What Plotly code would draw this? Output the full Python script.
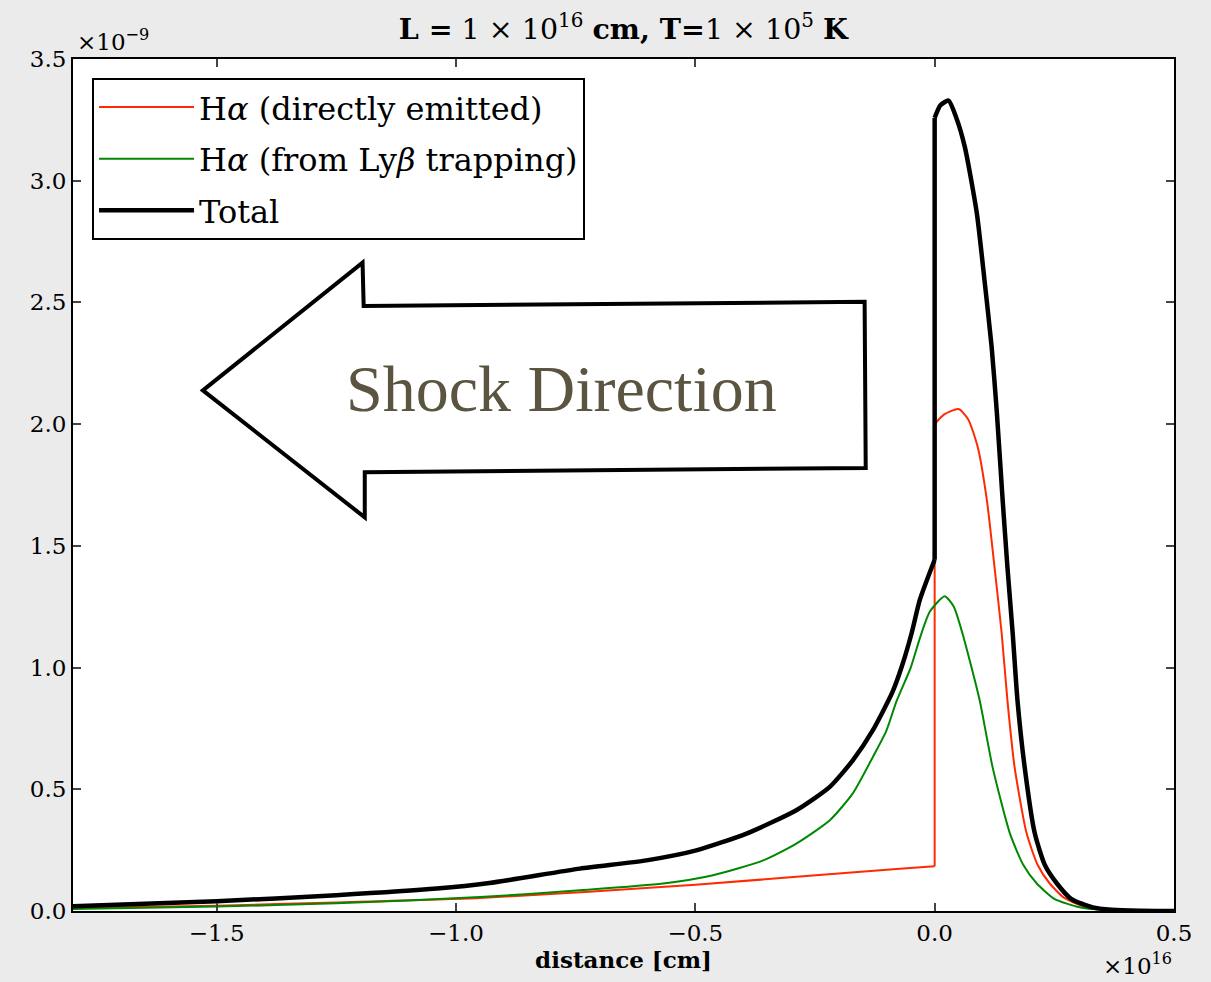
import plotly.graph_objects as go

# distance in units of 1e16 cm, emissivity in units of 1e-9
red_x = [-1.8, -1.5, -1.25, -0.95, -0.5, -0.073, 0.0, 0.0, 0.02, 0.050, 0.07, 0.090, 0.109, 0.125,
         0.140, 0.152, 0.167, 0.192, 0.215, 0.240, 0.27, 0.317, 0.36, 0.42, 0.5]
red_y = [0.012, 0.022, 0.035, 0.053, 0.108, 0.174, 0.184, 2.0, 2.04, 2.062, 2.02, 1.906, 1.689, 1.414,
         1.141, 0.866, 0.591, 0.320, 0.19, 0.114, 0.055, 0.015, 0.004, 0.001, 0.0]

green_x = [-1.8, -1.5, -1.25, -0.95, -0.741, -0.567, -0.463, -0.358, -0.289, -0.219, -0.171, -0.129,
           -0.101, -0.08, -0.05, -0.031, -0.01, 0.021, 0.04, 0.058, 0.094, 0.121, 0.157, 0.185,
           0.213, 0.25, 0.303, 0.35, 0.42, 0.5]
green_y = [0.008, 0.018, 0.032, 0.057, 0.085, 0.113, 0.147, 0.208, 0.277, 0.373, 0.483, 0.633,
           0.74, 0.86, 1.0, 1.12, 1.23, 1.293, 1.25, 1.141, 0.866, 0.591, 0.320, 0.19,
           0.114, 0.05, 0.015, 0.004, 0.001, 0.0]

total_x = [-1.8, -1.5, -1.25, -1.04, -0.93, -0.741, -0.602, -0.498, -0.393, -0.289, -0.219, -0.171,
           -0.129, -0.088, -0.069, -0.048, -0.031, 0.0, 0.0, 0.012, 0.029, 0.045, 0.063, 0.088,
           0.104, 0.119, 0.130, 0.142, 0.152, 0.163, 0.173, 0.188, 0.209, 0.23, 0.255, 0.285,
           0.330, 0.37, 0.43, 0.5]
total_y = [0.019, 0.040, 0.065, 0.092, 0.115, 0.174, 0.208, 0.249, 0.318, 0.414, 0.510, 0.619,
           0.743, 0.9, 1.002, 1.142, 1.278, 1.443, 3.258, 3.31, 3.329, 3.26, 3.139, 2.868,
           2.593, 2.318, 2.046, 1.689, 1.414, 1.141, 0.866, 0.591, 0.320, 0.19, 0.114, 0.05,
           0.015, 0.005, 0.001, 0.0]

x_ticks = [-1.5, -1.0, -0.5, 0.0, 0.5]
y_ticks = [0.0, 0.5, 1.0, 1.5, 2.0, 2.5, 3.0, 3.5]

series_names = ["H<i>α</i> (directly emitted)", "H<i>α</i> (from Ly<i>β</i> trapping)", "Total"]

SERIF = "DejaVu Serif, Liberation Serif, serif"
SERIF2 = "Liberation Serif, DejaVu Serif, serif"


def shock_index(xs):
    # index of the second x == 0 point (post-shock start)
    zeros = [i for i, v in enumerate(xs) if v == 0.0]
    return zeros[-1] if len(zeros) > 1 else None


fig = go.Figure()


def add_series(xs, ys, name, group, color, width):
    k = shock_index(xs)
    if k is None:
        fig.add_trace(go.Scatter(x=xs, y=ys, mode="lines", name=name, legendgroup=group,
                                 line=dict(color=color, width=width, shape="spline", smoothing=0.6)))
        return
    # pre-shock part (smooth), the jump (straight), post-shock part (smooth)
    fig.add_trace(go.Scatter(x=xs[:k], y=ys[:k], mode="lines", name=name, legendgroup=group,
                             line=dict(color=color, width=width, shape="spline", smoothing=0.6)))
    fig.add_trace(go.Scatter(x=xs[k - 1:k + 1], y=ys[k - 1:k + 1], mode="lines", name=name,
                             legendgroup=group, showlegend=False,
                             line=dict(color=color, width=width)))
    fig.add_trace(go.Scatter(x=xs[k:], y=ys[k:], mode="lines", name=name, legendgroup=group,
                             showlegend=False,
                             line=dict(color=color, width=width, shape="spline", smoothing=0.6)))


add_series(red_x, red_y, series_names[0], "a", "#ff2a00", 2)
add_series(green_x, green_y, series_names[1], "b", "#008800", 2)
add_series(total_x, total_y, series_names[2], "c", "black", 4.5)

# arrow shape (paper coordinates)
arrow_pts = [(0.118, 0.611), (0.263, 0.761), (0.264, 0.710), (0.719, 0.715),
             (0.720, 0.520), (0.265, 0.515), (0.265, 0.462)]
path = "M " + " L ".join(f"{x},{y}" for x, y in arrow_pts) + " Z"
fig.add_shape(type="path", path=path, xref="paper", yref="paper",
              line=dict(color="black", width=4), fillcolor="white", layer="above")

fig.add_annotation(text="Shock Direction", x=0.444, y=0.613, xref="paper", yref="paper",
                   showarrow=False, font=dict(family=SERIF2, size=66, color="#5a5440"))

fig.add_annotation(text="×10<sup>−9</sup>", x=0.0, y=1.0, xref="paper", yref="paper",
                   xanchor="left", yanchor="bottom", yshift=2, xshift=2, showarrow=False,
                   font=dict(family=SERIF, size=23, color="black"))
fig.add_annotation(text="×10<sup>16</sup>", x=1.0, y=0.0, xref="paper", yref="paper",
                   xanchor="right", yanchor="top", yshift=-36, xshift=0, showarrow=False,
                   font=dict(family=SERIF, size=23, color="black"))

fig.update_layout(
    width=1211, height=982,
    margin=dict(l=73, r=37, t=59, b=71),
    paper_bgcolor="#ebebeb", plot_bgcolor="white",
    font=dict(family=SERIF, color="black"),
    title=dict(text="<b>L =</b> 1 × 10<sup>16</sup> <b>cm, T=</b>1 × 10<sup>5</sup> <b>K</b>",
               x=0.5147, xanchor="center", y=0.970, yanchor="middle",
               font=dict(family=SERIF, size=28.5, color="black")),
    showlegend=True,
    legend=dict(x=0.0173, y=0.978, xanchor="left", yanchor="top",
                bgcolor="white", bordercolor="black", borderwidth=2,
                font=dict(family=SERIF, size=32, color="black"),
                tracegroupgap=7, itemwidth=95),
    xaxis=dict(range=[-1.8, 0.5], tickvals=x_ticks, tickformat=".1f",
               ticks="inside", ticklen=8, tickcolor="#444", tickwidth=1.5,
               showline=True, linecolor="black", linewidth=2, mirror="ticks",
               showgrid=False, zeroline=False,
               tickfont=dict(family=SERIF, size=23, color="black"),
               title=dict(text="<b>distance [cm]</b>", standoff=6,
                          font=dict(family=SERIF, size=23, color="black"))),
    yaxis=dict(range=[0, 3.5], tickvals=y_ticks, tickformat=".1f",
               ticks="inside", ticklen=8, tickcolor="#444", tickwidth=1.5,
               showline=True, linecolor="black", linewidth=2, mirror="ticks",
               showgrid=False, zeroline=False,
               tickfont=dict(family=SERIF, size=23, color="black")),
)

fig.write_html("out.html")
